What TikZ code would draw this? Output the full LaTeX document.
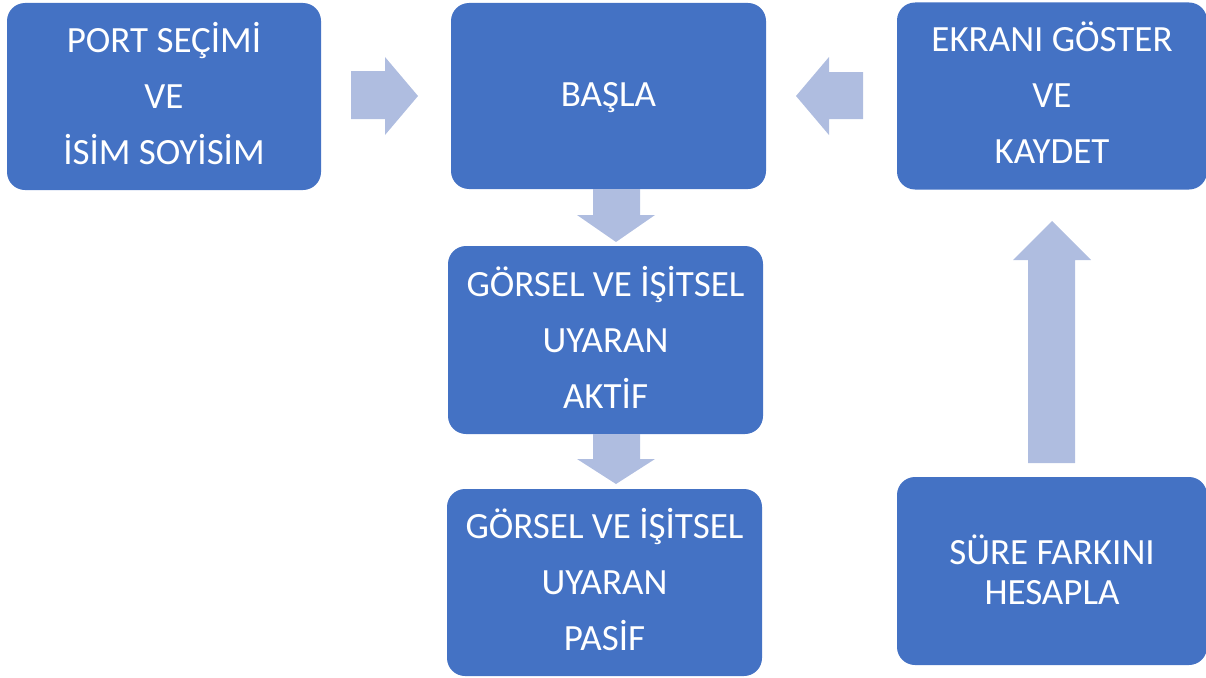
\documentclass[tikz,border=0pt]{standalone}
\usepackage{fontspec}
\setmainfont{Carlito}
\definecolor{boxblue}{HTML}{4472C4}
\definecolor{arrowblue}{HTML}{AFBDE0}
\begin{document}
\begin{tikzpicture}[x=1pt,y=-1pt,
  box/.style={fill=boxblue, rounded corners=18pt, inner sep=0pt,
    minimum width=314pt, minimum height=187pt},
  txt/.style={text=white, align=center, inner sep=0pt, font=\fontsize{37}{56}\selectfont},
  blockarrow/.style={fill=arrowblue}]
\useasboundingbox (0,0) rectangle (1206,677);
\node[box] (port) at (164,96.5) {};
\node[box, minimum width=315pt, minimum height=186pt] (basla) at (608.5,96) {};
\node[box, minimum width=310pt] (ekran) at (1052,96) {};
\node[box, minimum width=315pt, minimum height=188pt] (aktif) at (605.5,340) {};
\node[box, minimum width=315pt, minimum height=187pt] (pasif) at (604.5,582.5) {};
\node[box, minimum width=310pt, minimum height=188pt] (sure) at (1052,571) {};
\node[txt] (portt) at ([yshift=3pt]port.center) {PORT SEÇİMİ\\VE\\İSİM SOYİSİM};
\node[txt] (baslat) at ([yshift=-2pt]basla.center) {BAŞLA};
\node[txt] (ekrant) at ([yshift=3pt]ekran.center) {EKRANI GÖSTER\\VE\\KAYDET};
\node[txt] (aktift) at ([yshift=3pt]aktif.center) {GÖRSEL VE İŞİTSEL\\UYARAN\\AKTİF};
\node[txt] (pasift) at ([yshift=3pt]pasif.center) {GÖRSEL VE İŞİTSEL\\UYARAN\\PASİF};
\node[txt, font=\fontsize{37}{40}\selectfont] (suret) at ([yshift=1pt]sure.center) {SÜRE FARKINI\\HESAPLA};
% block arrows
\fill[blockarrow] (351,71) -- (385,71) -- (385,57) -- (418,96) -- (385,135) -- (385,119) -- (351,119) -- cycle;
\fill[blockarrow] (863,72) -- (829,72) -- (829,57) -- (796,96) -- (829,135) -- (829,119) -- (863,119) -- cycle;
\fill[blockarrow] (593,189) -- (640,189) -- (640,215) -- (655,215) -- (616,242) -- (577,215) -- (593,215) -- cycle;
\fill[blockarrow] (593,434) -- (640,434) -- (640,459) -- (655,459) -- (616,484) -- (577,459) -- (593,459) -- cycle;
\fill[blockarrow] (1028,463) -- (1075,463) -- (1075,260) -- (1091,260) -- (1052,221) -- (1013,260) -- (1028,260) -- cycle;
\end{tikzpicture}
\end{document}
